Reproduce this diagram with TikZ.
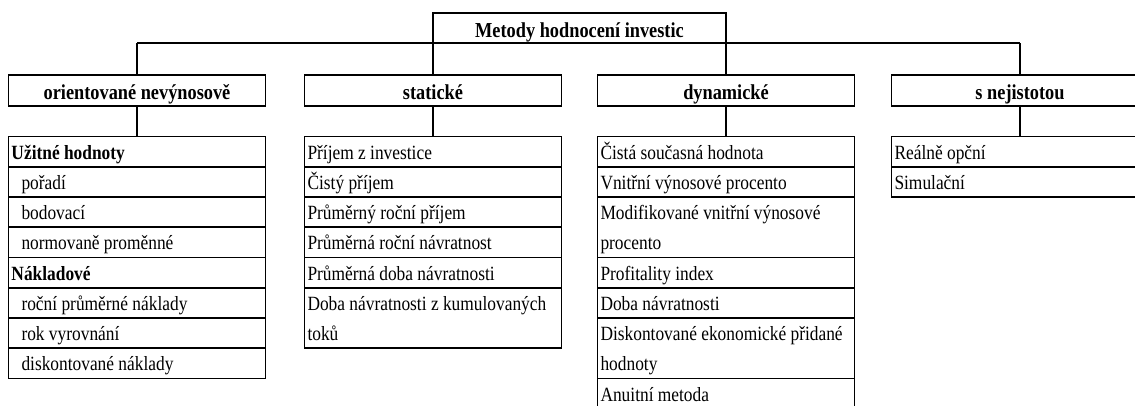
\documentclass[tikz,border=0pt]{standalone}
\usepackage{fontspec}
\setmainfont{Liberation Serif}[FakeStretch=0.86]
\usetikzlibrary{positioning}
\newcommand{\celltext}[1]{\makebox[251pt][l]{#1}}
\newcommand{\tworow}[2]{\makebox[251pt][l]{\vtop{\baselineskip=30.25pt\hbox{#1}\hbox{#2}}}}
\newcommand{\indt}{\hspace*{10pt}}
\begin{document}
\begin{tikzpicture}[x=1pt,y=-1pt,line width=1.9pt,
  node distance=0pt,
  every node/.style={outer sep=0pt},
  cell/.style={draw, rectangle, anchor=north west, minimum width=257pt,
    minimum height=30.25pt, inner xsep=3pt, inner ysep=0pt,
    text height=22.5pt, text depth=7.75pt,
    font=\fontsize{20.2pt}{30.25pt}\selectfont},
  dcell/.style={cell, minimum height=60.5pt, text depth=38pt},
  head/.style={draw, rectangle, anchor=north west, minimum width=257pt,
    minimum height=31pt, inner sep=0pt, text height=24pt, text depth=7pt,
    font=\fontsize{21.3pt}{22pt}\selectfont\bfseries},
  topbox/.style={draw, rectangle, anchor=north west, minimum width=293pt,
    minimum height=30pt, inner sep=0pt, text height=24pt, text depth=6pt,
    font=\fontsize{21.3pt}{22pt}\selectfont\bfseries}]
\useasboundingbox (0,0) rectangle (1135,405);
\clip (0,0) rectangle (1135,405);

% root
\node[topbox] (root) at (433,13.3) {Metody hodnocení investic};

% level 2
\node[head] (h1) at (8.5,75) {orientované nevýnosově};
\node[head] (h2) at (304.5,75) {statické};
\node[head] (h3) at (597.5,75) {dynamické};
\node[head] (h4) at (891.5,75) {s nejistotou};

% column 1
\node[cell] (a1) at (8.5,136.5) {\celltext{\bfseries Užitné hodnoty}};
\node[cell, below=of a1] (a2) {\celltext{\indt pořadí}};
\node[cell, below=of a2] (a3) {\celltext{\indt bodovací}};
\node[cell, below=of a3] (a4) {\celltext{\indt normovaně proměnné}};
\node[cell, below=of a4] (a5) {\celltext{\bfseries Nákladové}};
\node[cell, below=of a5] (a6) {\celltext{\indt roční průměrné náklady}};
\node[cell, below=of a6] (a7) {\celltext{\indt rok vyrovnání}};
\node[cell, below=of a7] (a8) {\celltext{\indt diskontované náklady}};

% column 2
\node[cell] (b1) at (304.5,136.5) {\celltext{Příjem z investice}};
\node[cell, below=of b1] (b2) {\celltext{Čistý příjem}};
\node[cell, below=of b2] (b3) {\celltext{Průměrný roční příjem}};
\node[cell, below=of b3] (b4) {\celltext{Průměrná roční návratnost}};
\node[cell, below=of b4] (b5) {\celltext{Průměrná doba návratnosti}};
\node[dcell, below=of b5] (b6) {\tworow{Doba návratnosti z kumulovaných}{toků}};

% column 3
\node[cell] (c1) at (597.5,136.5) {\celltext{Čistá současná hodnota}};
\node[cell, below=of c1] (c2) {\celltext{Vnitřní výnosové procento}};
\node[dcell, below=of c2] (c3) {\tworow{Modifikované vnitřní výnosové}{procento}};
\node[cell, below=of c3] (c4) {\celltext{Profitality index}};
\node[cell, below=of c4] (c5) {\celltext{Doba návratnosti}};
\node[dcell, below=of c5] (c6) {\tworow{Diskontované ekonomické přidané}{hodnoty}};
\node[cell, below=of c6] (c7) {\celltext{Anuitní metoda}};

% column 4
\node[cell] (d1) at (891.5,136.5) {\celltext{Reálně opční}};
\node[cell, below=of d1] (d2) {\celltext{Simulační}};

% connectors
\draw (h1.north |- root.south) -- (h4.north |- root.south);
\draw (h1.north |- root.south) -- (h1.north);
\draw (h2.north |- root.south) -- (h2.north);
\draw (h3.north |- root.south) -- (h3.north);
\draw (h4.north |- root.south) -- (h4.north);
\draw (h1.south) -- (a1.north);
\draw (h2.south) -- (b1.north);
\draw (h3.south) -- (c1.north);
\draw (h4.south) -- (d1.north);
\end{tikzpicture}
\end{document}
